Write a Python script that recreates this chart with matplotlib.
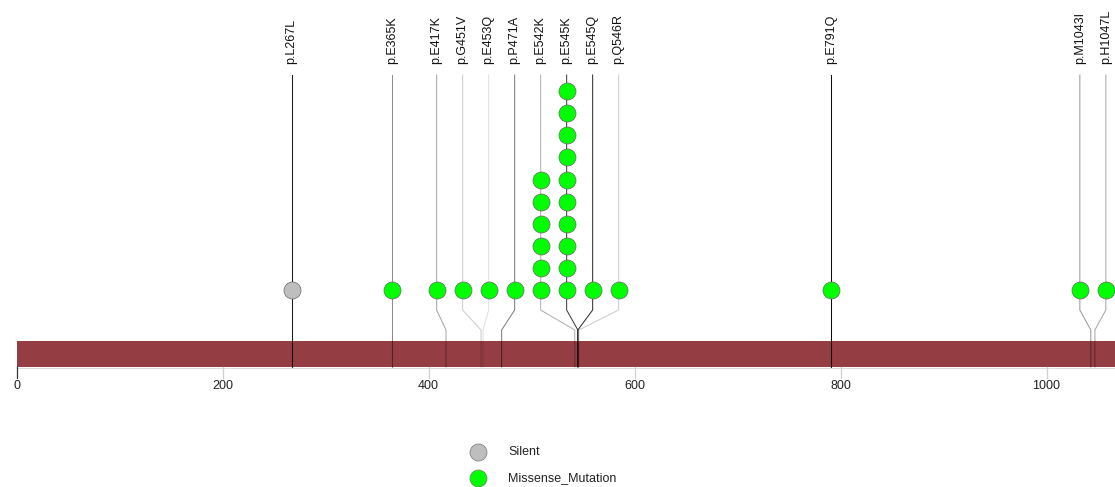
import matplotlib
matplotlib.use("Agg")
import matplotlib.pyplot as plt
import numpy as np

plt.rcParams["font.family"] = ["Liberation Sans", "DejaVu Sans"]

# mutations along the protein (amino acid position, label, class, count)
positions = [267, 365, 417, 451, 453, 471, 542, 545, 545, 546, 791, 1043, 1047]
labels = ["p.L267L", "p.E365K", "p.E417K", "p.G451V", "p.E453Q", "p.P471A",
          "p.E542K", "p.E545K", "p.E545Q", "p.Q546R", "p.E791Q", "p.M1043I",
          "p.H1047L"]
classes = ["Silent"] + ["Missense_Mutation"] * 12
counts = [1, 1, 1, 1, 1, 1, 6, 10, 1, 1, 1, 1, 1]
protein_length = 1068
axis_ticks = [0, 200, 400, 600, 800, 1000]

# stem line shading
stem_alpha = [0.9, 0.45, 0.35, 0.2, 0.12, 0.5, 0.3, 0.75, 0.8, 0.2, 0.95, 0.4, 0.35]
class_colors = {"Silent": "#bebebe", "Missense_Mutation": "#00ff00"}

W, H = 1115, 487
PX_PER_AA = 1.03
X0 = 16.5
MIN_GAP = 26 / PX_PER_AA


def spread(xs, gap):
    """Push lollipop heads apart so neighbours are at least `gap` apart."""
    groups = [[x] for x in xs]
    centers = [float(x) for x in xs]
    changed = True
    while changed:
        changed = False
        for i in range(len(groups) - 1):
            right_end = centers[i] + (len(groups[i]) - 1) * gap / 2
            left_start = centers[i + 1] - (len(groups[i + 1]) - 1) * gap / 2
            if left_start - right_end < gap:
                merged = groups[i] + groups[i + 1]
                groups[i:i + 2] = [merged]
                centers[i:i + 2] = [float(np.mean(merged))]
                changed = True
                break
    out = []
    for g, c in zip(groups, centers):
        n = len(g)
        out.extend(c + (np.arange(n) - (n - 1) / 2) * gap)
    return out


heads = spread(positions, MIN_GAP)

fig = plt.figure(figsize=(W / 100, H / 100), dpi=100)
ax = fig.add_axes([0, 0, 1, 1])
ax.set_xlim(-X0 / PX_PER_AA, (W - X0) / PX_PER_AA)
ax.set_ylim(H, 0)
ax.axis("off")

bar_top, bar_bot = 341, 367
label_y = 64
stem_top = 75
dot_base = 290
dot_step = 22.1
elbow_hi, elbow_lo = 310, 330

# protein backbone
ax.add_patch(plt.Rectangle((0, bar_top), protein_length + 50, bar_bot - bar_top,
                           facecolor="#943d43", edgecolor="none", zorder=1))
ax.plot([0, protein_length + 50], [bar_bot + 0.5, bar_bot + 0.5],
        color="#dddddd", lw=0.8, zorder=1)

# axis ticks and labels
for t in axis_ticks:
    ax.plot([t, t], [bar_bot, bar_bot + 11],
            color="#333333" if t == 0 else "#d0d0d0", lw=0.9, zorder=1)
    ax.text(t, 386, str(t), ha="center", va="center", fontsize=9,
            color="#222222")

for pos, head, lab, cls, n, a in zip(positions, heads, labels, classes,
                                     counts, stem_alpha):
    lc = (0, 0, 0, a)
    ax.plot([head, head, pos, pos], [stem_top, elbow_hi, elbow_lo, bar_bot],
            color=lc, lw=0.75, zorder=2)
    ys = dot_base - np.arange(n) * dot_step
    ax.scatter([head] * n, ys, s=150, color=class_colors[cls],
               edgecolors="#666666", linewidths=0.5, zorder=3)
    ax.text(head, label_y, lab, rotation=90, ha="center", va="bottom",
            fontsize=9, color="#111111")

# legend
for i, (name, col) in enumerate(class_colors.items()):
    y = 452 + i * 26
    ax.scatter([(478 - X0) / PX_PER_AA], [y], s=150, color=col,
               edgecolors="#777777", linewidths=0.5, zorder=3)
    ax.text((508 - X0) / PX_PER_AA, y, name, ha="left", va="center",
            fontsize=9, color="#222222")

fig.savefig("out.png", dpi=100)
